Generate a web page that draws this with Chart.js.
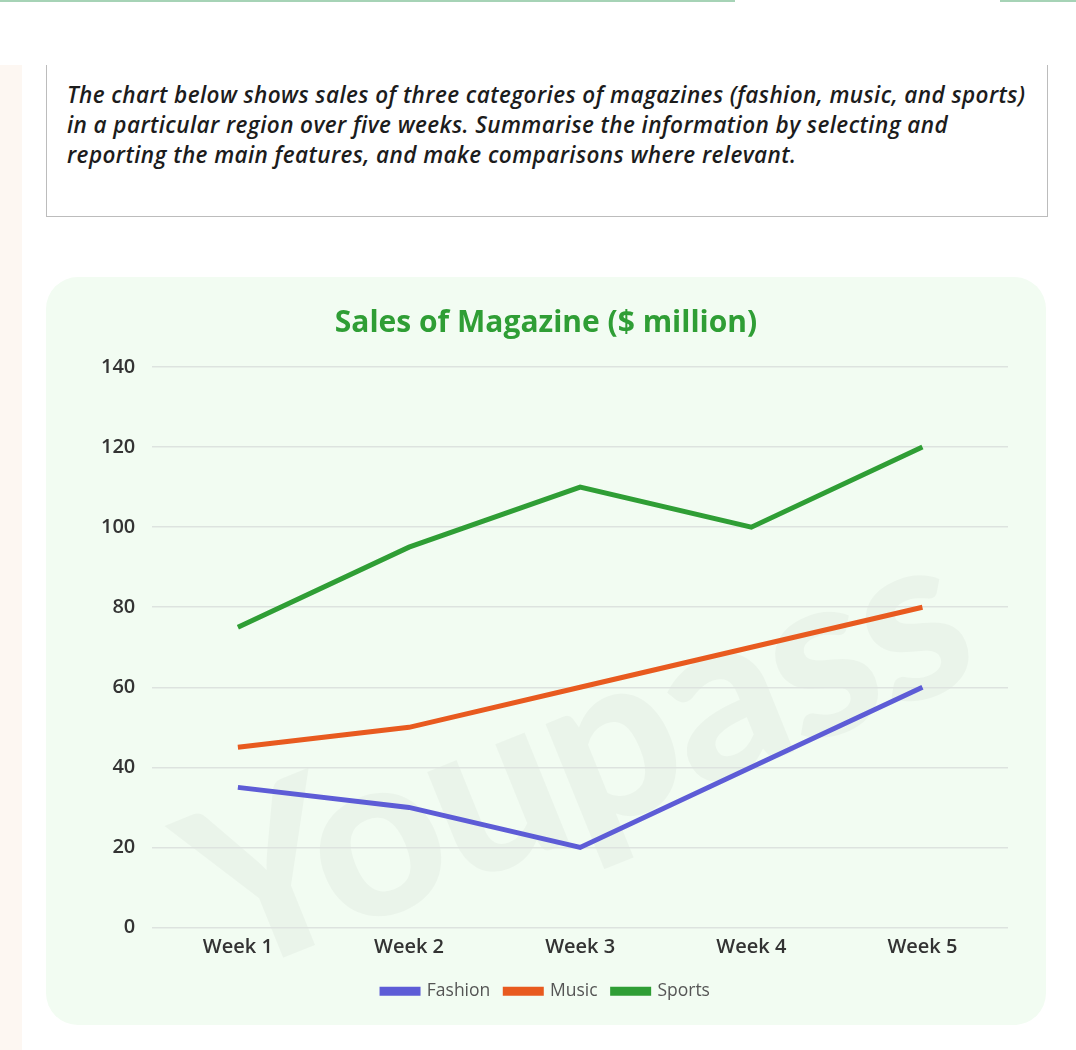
<!DOCTYPE html>
<html>
<head>
<meta charset="utf-8">
<script src="https://cdn.jsdelivr.net/npm/chart.js@4"></script>
<style>
  body { margin: 0; background: #fff; width: 1076px; height: 1050px; position: relative; overflow: hidden; font-family: "Open Sans", sans-serif; }
  .topline1 { position: absolute; left: 0; top: 0; width: 735px; height: 2px; background: #a6d3b6; }
  .topline2 { position: absolute; left: 1000px; top: 0; width: 76px; height: 2px; background: #a6d3b6; }
  .strip { position: absolute; left: 0; top: 65px; width: 22px; height: 985px; background: #fdf7f2; }
  .task { position: absolute; left: 46px; top: 65px; width: 1000px; height: 151px; border: 1px solid #bcbcbc; border-top: none; box-sizing: content-box; }
  .task p { margin: 0; position: absolute; left: 20px; top: 15px; white-space: nowrap; font-family: "Open Sans", sans-serif; font-style: italic; font-weight: 600; font-size: 22.5px; line-height: 30px; color: #1c1c1c; letter-spacing: 0.42px; }
  .panel { position: absolute; left: 46px; top: 277px; width: 1000px; height: 748px; background: #f2fcf2; border-radius: 32px; overflow: hidden; }
  .mark { position: absolute; left: 120px; top: 330px; font-size: 230px; font-weight: 900; color: rgba(0,0,0,0.03); transform: rotate(-22deg); font-family: "Lato", sans-serif; letter-spacing: -4px; }
  canvas { position: absolute; left: 0; top: 0; }
</style>
</head>
<body>
<div class="topline1"></div>
<div class="topline2"></div>
<div class="strip"></div>
<div class="task"><p>The chart below shows sales of three categories of magazines (fashion, music, and sports)<br>in a particular region over five weeks. Summarise the information by selecting and<br>reporting the main features, and make comparisons where relevant.</p></div>
<div class="panel">
  <div class="mark">Youpass</div>
  <canvas id="myChart" width="1000" height="748"></canvas>
</div>
<script>
// categories and values
var weeks = ['Week 1', 'Week 2', 'Week 3', 'Week 4', 'Week 5'];
var fashion = [35, 30, 20, 40, 60];
var music = [45, 50, 60, 70, 80];
var sports = [75, 95, 110, 100, 120];

var ctx = document.getElementById('myChart').getContext('2d');
var chart = new Chart(ctx, {
    type: 'line',
    data: {
        labels: weeks,
        datasets: [{
            label: 'Fashion',
            borderColor: '#5d5cd6',
            backgroundColor: '#5d5cd6',
            data: fashion
        }, {
            label: 'Music',
            borderColor: '#e85a1f',
            backgroundColor: '#e85a1f',
            data: music
        }, {
            label: 'Sports',
            borderColor: '#2f9e35',
            backgroundColor: '#2f9e35',
            data: sports
        }]
    },
    options: {
        responsive: false,
        animation: false,
        borderWidth: 5,
        pointRadius: 0,
        pointHoverRadius: 0,
        tension: 0,
        layout: { padding: { left: 38, right: 38, top: 0, bottom: 15 } },
        plugins: {
            title: {
                display: true,
                text: 'Sales of Magazine ($ million)',
                color: '#2f9e35',
                font: { family: 'Open Sans', size: 30, weight: 'bold' },
                padding: { top: 28, bottom: 26 }
            },
            legend: {
                position: 'bottom',
                labels: {
                    boxWidth: 36,
                    boxHeight: 4,
                    color: '#555',
                    font: { family: 'Open Sans', size: 17.5 },
                    padding: 15
                }
            },
            tooltip: { enabled: false }
        },
        scales: {
            x: {
                offset: true,
                grid: { display: false, drawTicks: false },
                border: { display: false },
                ticks: { color: '#333', font: { family: 'Open Sans', size: 20, weight: '600' }, padding: 8 }
            },
            y: {
                min: 0,
                max: 140,
                grid: { color: '#dde3df', lineWidth: 1.5, drawTicks: false },
                border: { display: false },
                ticks: { stepSize: 20, color: '#333', font: { family: 'Open Sans', size: 20, weight: '600' }, padding: 17 }
            }
        }
    }
});
</script>
</body>
</html>
